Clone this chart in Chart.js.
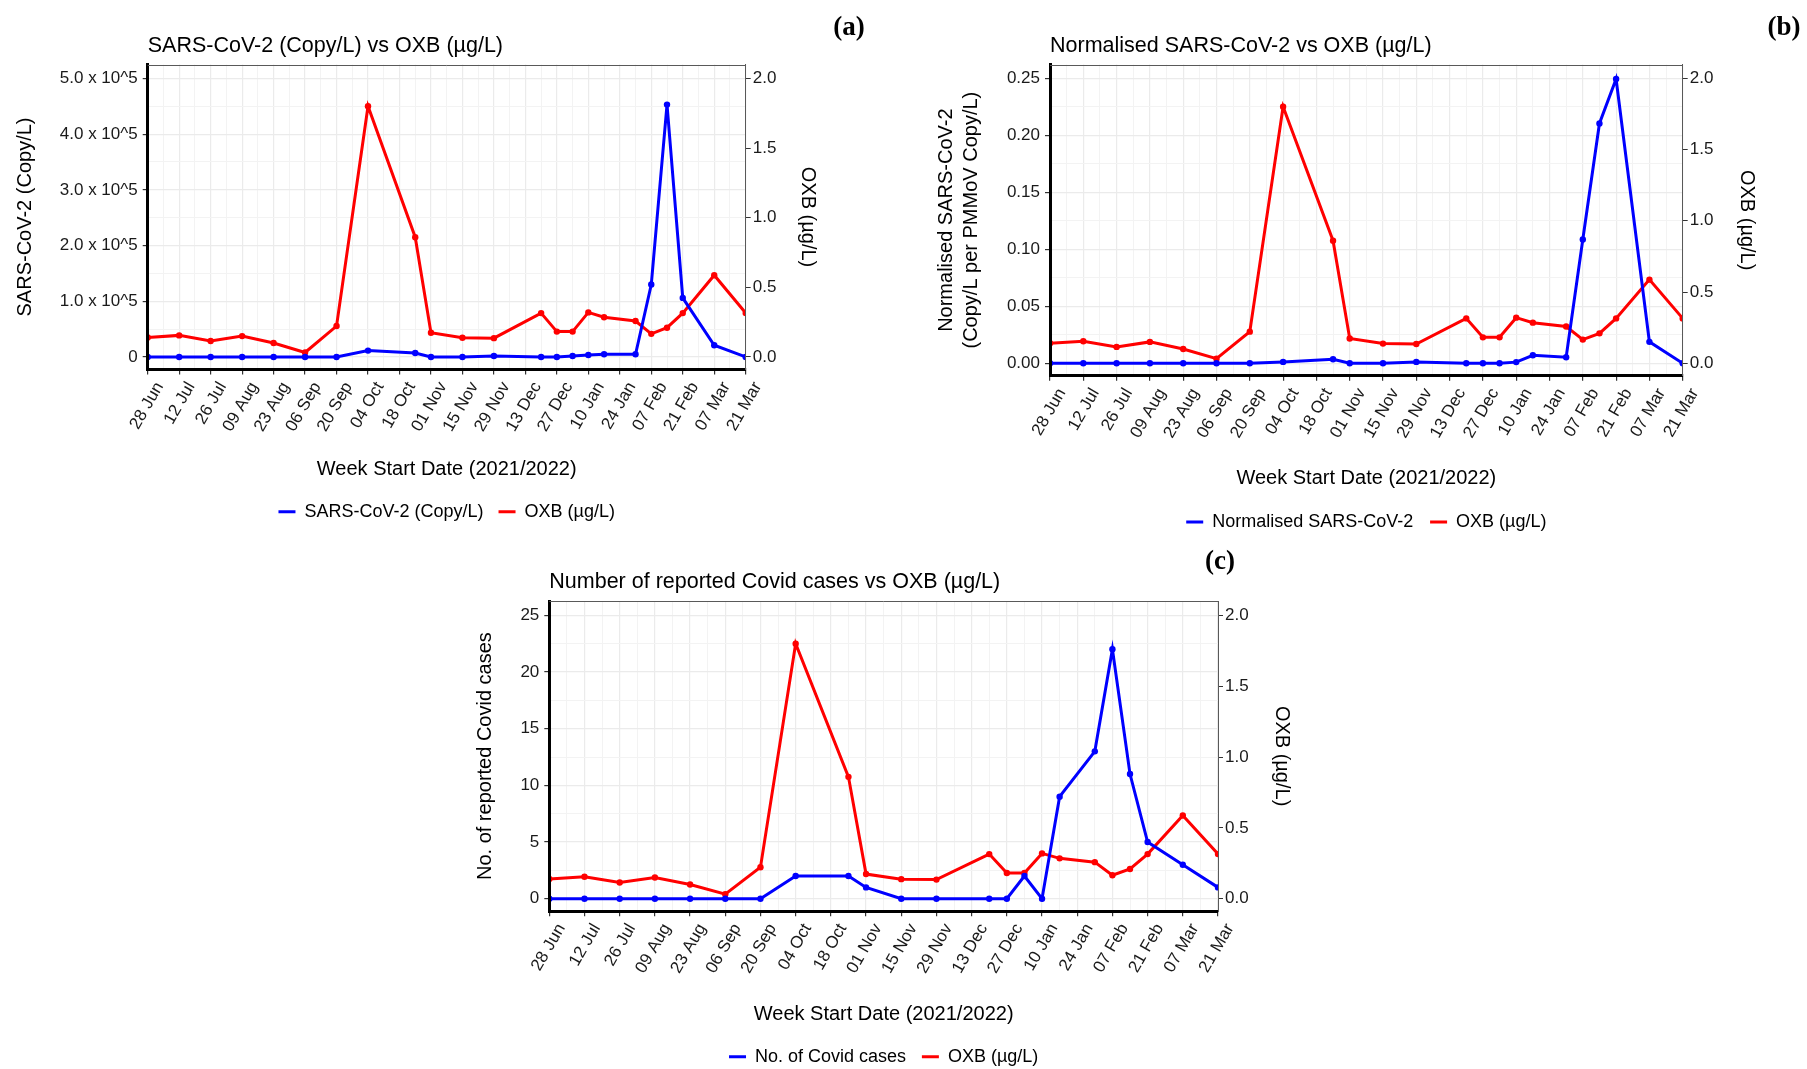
<!DOCTYPE html>
<html lang="en">
<head>
<meta charset="utf-8">
<title>OXB vs SARS-CoV-2 (2021/2022)</title>
<script src="https://cdn.jsdelivr.net/npm/chart.js@4.4.1/dist/chart.umd.min.js"></script>
<style>
    html, body { margin: 0; padding: 0; background: #ffffff; }
    body { position: relative; width: 1807px; height: 1069px; overflow: hidden; }
    canvas { position: absolute; }
    .panel-tag {
        position: absolute;
        font: bold 27px "Liberation Serif", "Times New Roman", serif;
        color: #000;
        line-height: 1;
        transform: translate(-50%, -50%);
    }
</style>
</head>
<body>
<canvas id="chartSars" width="880" height="540" style="left:0;top:0"></canvas>
<canvas id="chartNorm" width="927" height="545" style="left:880px;top:0"></canvas>
<canvas id="chartCases" width="880" height="540" style="left:420px;top:540px"></canvas>
<div class="panel-tag" style="left:849px;top:26px">(a)</div>
<div class="panel-tag" style="left:1784px;top:26px">(b)</div>
<div class="panel-tag" style="left:1220px;top:560px">(c)</div>

<script>
// Sampled week start dates (same for every series)
const sampleDates = [
    '2021-06-28', '2021-07-12', '2021-07-26', '2021-08-09', '2021-08-23', '2021-09-06',
    '2021-09-20', '2021-10-04', '2021-10-25', '2021-11-01', '2021-11-15', '2021-11-29',
    '2021-12-20', '2021-12-27', '2022-01-03', '2022-01-10', '2022-01-17', '2022-01-31',
    '2022-02-07', '2022-02-14', '2022-02-21', '2022-03-07', '2022-03-21'
];

// OXB (µg/L), right axis of every panel
const oxbValues = [
    0.14, 0.155, 0.115, 0.15, 0.10, 0.032, 0.222, 1.80, 0.86, 0.174, 0.138, 0.135,
    0.315, 0.182, 0.182, 0.32, 0.285, 0.258, 0.166, 0.21, 0.315, 0.587, 0.315
];

// SARS-CoV-2 (Copy/L)
const sarsCopies = [
    0, 0, 0, 0, 0, 0, 0, 11400, 7200, 0, 0, 1800,
    0, 0, 1800, 3600, 4800, 4800, 130000, 453000, 106000, 21000, 0
];

// Normalised SARS-CoV-2 (Copy/L per PMMoV Copy/L)
const sarsNormalised = [
    0, 0, 0, 0, 0, 0, 0, 0.0012, 0.0035, 0, 0, 0.0012,
    0, 0, 0, 0.001, 0.007, 0.0053, 0.1086, 0.2104, 0.2494, 0.0188, 0
];

// Number of reported Covid cases
const covidCases = [
    0, 0, 0, 0, 0, 0, 0, 2, 2, 1, 0, 0,
    0, 0, 2, 0, 9, 13, 22, 11, 5, 3, 1
];

// Tick labels
const weekTickLabels = [
    '28 Jun', '12 Jul', '26 Jul', '09 Aug', '23 Aug', '06 Sep', '20 Sep', '04 Oct', '18 Oct', '01 Nov',
    '15 Nov', '29 Nov', '13 Dec', '27 Dec', '10 Jan', '24 Jan', '07 Feb', '21 Feb', '07 Mar', '21 Mar'
];
const sarsTickLabels = ['0', '1.0 x 10^5', '2.0 x 10^5', '3.0 x 10^5', '4.0 x 10^5', '5.0 x 10^5'];
const normTickLabels = ['0.00', '0.05', '0.10', '0.15', '0.20', '0.25'];
const casesTickLabels = ['0', '5', '10', '15', '20', '25'];
const oxbTickLabels = ['0.0', '0.5', '1.0', '1.5', '2.0'];

const BLUE = '#0000ff';
const RED = '#ff0000';
const MAJOR_GRID = '#ebebeb';
const MINOR_GRID = '#f3f3f3';
const TICK_MARK = '#333333';
const TICK_TEXT = '#1a1a1a';

const DAY_MS = 24 * 60 * 60 * 1000;
const axisStart = Date.parse('2021-06-28');
const xMaxDays = (weekTickLabels.length - 1) * 14;

Chart.defaults.font.family = '"Liberation Sans", Arial, Helvetica, sans-serif';
Chart.defaults.color = '#000000';

// days since the first tick
function dayOffset(dateStr) {
    return Math.round((Date.parse(dateStr) - axisStart) / DAY_MS);
}

function toPoints(values) {
    return sampleDates.map((d, i) => ({ x: dayOffset(d), y: values[i] }));
}

// weekly ticks, labelled every two weeks
function weeklyTicks() {
    const ticks = [];
    for (let d = 0; d <= xMaxDays; d += 7) ticks.push({ value: d });
    return ticks;
}

// major ticks with a minor tick half way between them
function halfStepTicks(labels, step) {
    const ticks = [];
    for (let i = 0; i <= (labels.length - 1) * 2; i++) ticks.push({ value: i * step / 2 });
    return ticks;
}

// legend entries drawn as a short thick line in the series colour
function lineLegendLabels(chart) {
    return Chart.defaults.plugins.legend.labels.generateLabels(chart).map(item => {
        const ds = chart.data.datasets[item.datasetIndex];
        return { ...item, strokeStyle: ds.borderColor, fillStyle: ds.borderColor, lineWidth: 3, pointStyle: 'line' };
    });
}

// grey line along the top of the panel (ggplot panel border)
const panelTopBorder = {
    id: 'panelTopBorder',
    afterDraw(chart) {
        const { ctx, chartArea } = chart;
        ctx.save();
        ctx.strokeStyle = '#595959';
        ctx.lineWidth = 1;
        ctx.beginPath();
        ctx.moveTo(chartArea.left, Math.round(chartArea.top) + 0.5);
        ctx.lineTo(chartArea.right, Math.round(chartArea.top) + 0.5);
        ctx.stroke();
        ctx.restore();
    }
};

// Builds one panel. `box` holds the target pixel layout inside the canvas.
function renderPanel(canvasId, cfg) {
    const canvas = document.getElementById(canvasId);
    const box = cfg.box;
    const W = canvas.width;
    const H = canvas.height;

    const titleLine = 21.5 * 1.2;
    const axisTitleLine = 20 * 1.2;
    const legendFont = 18;
    const xTitlePadBottom = 6;

    const xHeight = box.xTitleCenter + axisTitleLine / 2 + xTitlePadBottom - box.bottom;
    const legendTop = box.xTitleCenter + axisTitleLine / 2 + xTitlePadBottom;
    const legendPad = box.legendCenter - legendFont / 2 - legendTop;
    const padBottom = Math.max(0, H - (legendTop + legendFont + legendPad + 10));

    const leftTitleLine = cfg.leftTitleLine || axisTitleLine;

    return new Chart(canvas.getContext('2d'), {
        type: 'line',
        data: {
            datasets: [
                {
                    label: cfg.blueLabel,
                    data: toPoints(cfg.blueValues),
                    yAxisID: 'y',
                    borderColor: BLUE,
                    backgroundColor: BLUE,
                    borderWidth: 3,
                    pointRadius: 3.2,
                    pointBorderWidth: 0,
                    tension: 0,
                    clip: 0
                },
                {
                    label: 'OXB (µg/L)',
                    data: toPoints(oxbValues),
                    yAxisID: 'y1',
                    borderColor: RED,
                    backgroundColor: RED,
                    borderWidth: 3,
                    pointRadius: 3.2,
                    pointBorderWidth: 0,
                    tension: 0,
                    clip: 0
                }
            ]
        },
        options: {
            responsive: false,
            animation: false,
            events: [],
            layout: { padding: { top: 0, left: 0, right: 0, bottom: padBottom } },
            plugins: {
                tooltip: { enabled: false },
                title: {
                    display: true,
                    text: cfg.title,
                    align: 'start',
                    fullSize: false,
                    color: '#000',
                    font: { size: 21.5, weight: 'normal', lineHeight: 1.2 },
                    padding: {
                        top: box.titleCenter - titleLine / 2,
                        bottom: box.top - box.titleCenter - titleLine / 2
                    }
                },
                legend: {
                    position: 'bottom',
                    fullSize: false,
                    labels: {
                        usePointStyle: true,
                        pointStyle: 'line',
                        pointStyleWidth: 17,
                        boxHeight: 12,
                        padding: legendPad,
                        color: '#000',
                        font: { size: legendFont },
                        generateLabels: lineLegendLabels
                    }
                }
            },
            scales: {
                x: {
                    type: 'linear',
                    bounds: 'data',
                    min: 0,
                    max: xMaxDays,
                    afterBuildTicks: axis => { axis.ticks = weeklyTicks(); },
                    afterFit: scale => { scale.height = xHeight; },
                    ticks: {
                        autoSkip: false,
                        minRotation: 60,
                        maxRotation: 60,
                        padding: 4,
                        labelOffset: 12,
                        color: TICK_TEXT,
                        font: { size: 17 },
                        callback: v => (v % 14 === 0 ? weekTickLabels[v / 14] : '')
                    },
                    grid: {
                        color: c => (c.index % 2 === 0 ? MAJOR_GRID : MINOR_GRID),
                        lineWidth: c => (c.index % 2 === 0 ? 1.2 : 1),
                        tickColor: c => (c.index % 2 === 0 ? TICK_MARK : 'rgba(0,0,0,0)'),
                        tickLength: 5
                    },
                    border: { display: true, color: '#000', width: 3, z: 1 },
                    title: {
                        display: true,
                        text: 'Week Start Date (2021/2022)',
                        color: '#000',
                        font: { size: 20, lineHeight: 1.2 },
                        padding: { top: 0, bottom: xTitlePadBottom }
                    }
                },
                y: {
                    type: 'linear',
                    position: 'left',
                    bounds: 'data',
                    min: cfg.yMin,
                    max: cfg.yMax,
                    afterBuildTicks: axis => { axis.ticks = halfStepTicks(cfg.leftLabels, cfg.leftStep); },
                    afterFit: scale => { scale.width = box.left; },
                    ticks: {
                        autoSkip: false,
                        padding: 5,
                        color: TICK_TEXT,
                        font: { size: 17 },
                        callback: (v, i) => (i % 2 === 0 ? cfg.leftLabels[i / 2] : '')
                    },
                    grid: {
                        color: c => (c.index % 2 === 0 ? MAJOR_GRID : MINOR_GRID),
                        lineWidth: c => (c.index % 2 === 0 ? 1.2 : 1),
                        tickColor: c => (c.index % 2 === 0 ? TICK_MARK : 'rgba(0,0,0,0)'),
                        tickLength: 5
                    },
                    border: { display: true, color: '#000', width: 3, z: 1 },
                    title: {
                        display: true,
                        text: cfg.leftTitle,
                        color: '#000',
                        font: { size: 20, lineHeight: leftTitleLine / 20 },
                        padding: { top: box.leftTitleX - leftTitleLine / 2, bottom: 0 }
                    }
                },
                y1: {
                    type: 'linear',
                    position: 'right',
                    bounds: 'data',
                    min: cfg.y1Min,
                    max: cfg.y1Max,
                    afterBuildTicks: axis => { axis.ticks = oxbTickLabels.map((_, i) => ({ value: i * 0.5 })); },
                    afterFit: scale => { scale.width = W - box.right; },
                    ticks: {
                        autoSkip: false,
                        padding: 2,
                        color: TICK_TEXT,
                        font: { size: 17 },
                        callback: (v, i) => oxbTickLabels[i]
                    },
                    grid: { drawOnChartArea: false, tickColor: TICK_MARK, tickLength: 5 },
                    border: { display: true, color: '#595959', width: 1, z: 1 },
                    title: {
                        display: true,
                        text: 'OXB (µg/L)',
                        color: '#000',
                        font: { size: 20, lineHeight: 1.2 },
                        padding: { top: W - box.rightTitleX - axisTitleLine / 2, bottom: 0 }
                    }
                }
            }
        },
        plugins: [panelTopBorder]
    });
}

// Panel (a): SARS-CoV-2 copies
const sarsChart = renderPanel('chartSars', {
    title: 'SARS-CoV-2 (Copy/L) vs OXB (µg/L)',
    blueLabel: 'SARS-CoV-2 (Copy/L)',
    blueValues: sarsCopies,
    leftTitle: 'SARS-CoV-2 (Copy/L)',
    leftLabels: sarsTickLabels,
    leftStep: 100000,
    yMin: -22500, yMax: 525000,
    y1Min: -0.09, y1Max: 2.1,
    box: {
        left: 147.7, right: 745.7, top: 64.5, bottom: 369.5,
        titleCenter: 45.85, xTitleCenter: 469.7, legendCenter: 511.7,
        leftTitleX: 25, rightTitleX: 808
    }
});

// Panel (b): normalised SARS-CoV-2
const normChart = renderPanel('chartNorm', {
    title: 'Normalised SARS-CoV-2 vs OXB (µg/L)',
    blueLabel: 'Normalised SARS-CoV-2',
    blueValues: sarsNormalised,
    leftTitle: ['Normalised SARS-CoV-2', '(Copy/L per PMMoV Copy/L)'],
    leftTitleLine: 25,
    leftLabels: normTickLabels,
    leftStep: 0.05,
    yMin: -0.011, yMax: 0.2621,
    y1Min: -0.088, y1Max: 2.097,
    box: {
        left: 170, right: 802.7, top: 64.5, bottom: 375.8,
        titleCenter: 45.85, xTitleCenter: 478.2, legendCenter: 522,
        leftTitleX: 66.7, rightTitleX: 866.7
    }
});

// Panel (c): reported Covid cases
const casesChart = renderPanel('chartCases', {
    title: 'Number of reported Covid cases vs OXB (µg/L)',
    blueLabel: 'No. of Covid cases',
    blueValues: covidCases,
    leftTitle: 'No. of reported Covid cases',
    leftLabels: casesTickLabels,
    leftStep: 5,
    yMin: -1.1, yMax: 26.26,
    y1Min: -0.088, y1Max: 2.1008,
    box: {
        left: 129.3, right: 798, top: 61, bottom: 371.2,
        titleCenter: 42.55, xTitleCenter: 474, legendCenter: 516.8,
        leftTitleX: 65.5, rightTitleX: 861.5
    }
});
</script>
</body>
</html>
